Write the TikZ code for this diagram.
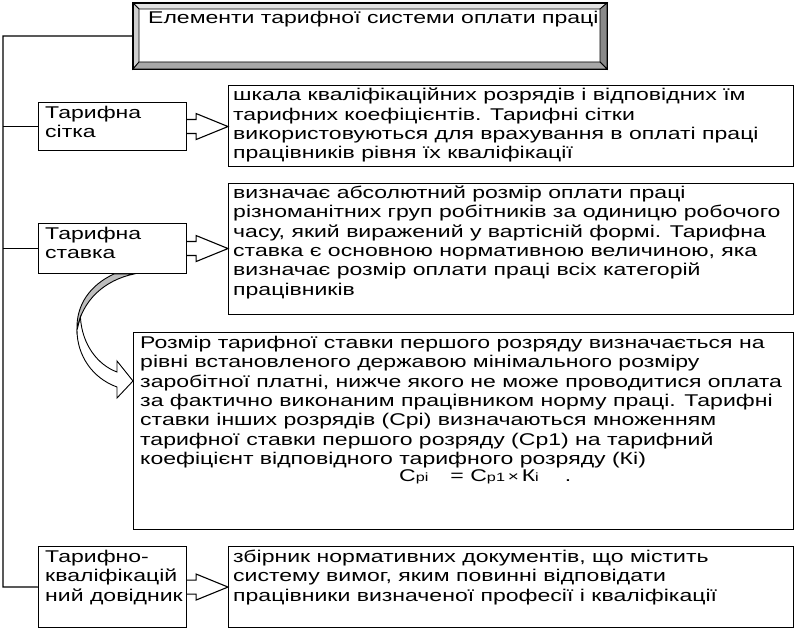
\documentclass[tikz,border=0pt]{standalone}
\usepackage{fontspec}
\setmainfont{Liberation Sans}[FakeStretch=1.355]
\usetikzlibrary{calc}
\newcommand{\sm}[1]{{\fontsize{12}{12}\selectfont #1}}
\newcommand{\blockarr}[2]{%
  \draw[barrow] ($(#1.east)+(0,-7)$) -- ++(9,0) -- ++(0,-6) -- (#1.east -| #2.west)
    -- ($(#1.east)+(9,13)$) -- ++(0,-6) -- ($(#1.east)+(0,7)$);}
\definecolor{bevlight}{HTML}{E4E4E4}
\definecolor{bevleft}{HTML}{CFCFCF}
\definecolor{bevdark}{HTML}{8A8A8A}
\definecolor{bevbottom}{HTML}{A8A8A8}
\definecolor{curvegray}{HTML}{BDBDBD}
\tikzset{
  box/.style={draw, line width=1.1pt, fill=white, rectangle, inner sep=0pt, anchor=north west},
  txt/.style={align=left, inner sep=0pt, anchor=north west, font=\fontsize{17}{19.4}\selectfont},
  conn/.style={line width=1.1pt},
  barrow/.style={draw, line width=1.1pt, fill=white, line join=miter},
  bevel/.style={draw, line width=0.8pt},
}
\begin{document}
\begin{tikzpicture}[x=1pt,y=-1pt]
\useasboundingbox (0,0) rectangle (796,628);

% title with bevel
\node[box, minimum width=473pt, minimum height=65pt] (title) at (133,3) {};
\coordinate (tin1) at (139,9);
\coordinate (tin2) at (600,62);
\filldraw[bevel, fill=bevlight] (title.north west) -- (title.north east) -- (tin2 |- tin1) -- (tin1) -- cycle;
\filldraw[bevel, fill=bevleft] (title.north west) -- (tin1) -- (tin1 |- tin2) -- (title.south west) -- cycle;
\filldraw[bevel, fill=bevdark] (title.north east) -- (tin2 |- tin1) -- (tin2) -- (title.south east) -- cycle;
\filldraw[bevel, fill=bevbottom] (title.south west) -- (tin1 |- tin2) -- (tin2) -- (title.south east) -- cycle;
\draw[line width=1.1pt] (title.north west) rectangle (title.south east);
\node[txt, anchor=base west] (titletext) at (148,24) {Елементи тарифної системи оплати праці};

% left boxes
\node[box, minimum width=148pt, minimum height=48pt] (sitka) at (38,102) {};
\node[box, minimum width=148pt, minimum height=50pt] (stavka) at (38,223) {};
\node[box, minimum width=148pt, minimum height=81pt] (dov) at (38,546) {};

% description boxes
\node[box, minimum width=565pt, minimum height=81pt] (desc1) at (228,85) {};
\node[box, minimum width=565pt, minimum height=131pt] (desc2) at (228,183) {};
\node[box, minimum width=660pt, minimum height=197pt] (desc3) at (133,332) {};
\node[box, minimum width=565pt, minimum height=81pt] (desc4) at (228,546) {};

% texts
\node[txt] (sitkat) at ($(sitka.north west)+(7,2.5)$) {\strut Тарифна\\сітка};
\node[txt] (stavkat) at ($(stavka.north west)+(7,2.5)$) {\strut Тарифна\\ставка};
\node[txt] (dovt) at ($(dov.north west)+(7,2.5)$) {\strut Тарифно-\\кваліфікацій\\ний довідник};

\node[txt] (desc1t) at ($(desc1.north west)+(5,2)$) {\strut шкала кваліфікаційних розрядів і відповідних їм\\
тарифних коефіцієнтів. Тарифні сітки\\
використовуються для врахування в оплаті праці\\
працівників рівня їх кваліфікації};

\node[txt] (desc2t) at ($(desc2.north west)+(5,1.5)$) {\strut визначає абсолютний розмір оплати праці\\
різноманітних груп робітників за одиницю робочого\\
часу, який виражений у вартісній формі. Тарифна\\
ставка є основною нормативною величиною, яка\\
визначає розмір оплати праці всіх категорій\\
працівників};

\node[txt] (desc3t) at ($(desc3.north west)+(7,2.5)$) {\strut Розмір тарифної ставки першого розряду визначається на\\
рівні встановленого державою мінімального розміру\\
заробітної платні, нижче якого не може проводитися оплата\\
за фактично виконаним працівником норму праці. Тарифні\\
ставки інших розрядів (Срі) визначаються множенням\\
тарифної ставки першого розряду (Ср1) на тарифний\\
коефіцієнт відповідного тарифного розряду (Кі)};

\node[txt, anchor=base west] (formula) at (399,482) {С\sm{рі}\hspace{22pt}= С\sm{р1}\,{\fontsize{14}{14}\selectfont ×}\,К\sm{і}\hspace{26pt}.};

\node[txt] (desc4t) at ($(desc4.north west)+(5,2.5)$) {\strut збірник нормативних документів, що містить\\
систему вимог, яким повинні відповідати\\
працівники визначеної професії і кваліфікації};

% connectors
\coordinate (trunk) at (3,587);
\draw[conn] (title.west) -| (trunk) -- (dov.west);
\draw[conn] (sitka.west) -- (sitka.west -| trunk);
\draw[conn] (stavka.west) -- (stavka.west -| trunk);

% block arrows
\blockarr{sitka}{desc1}
\blockarr{stavka}{desc2}
\blockarr{dov}{desc4}

% curved arrow from stavka to desc3
\filldraw[line width=0.9pt, fill=curvegray] (114,274) .. controls (90,285) and (76,305) .. (77,330)
  .. controls (82,300) and (105,280) .. (134,274) -- cycle;
\filldraw[line width=0.9pt, fill=white, line join=miter] (80.4,317.1) .. controls (82,345) and (98,365) .. (117,372)
  -- (117,361) -- (desc3.west |- 0,381) -- (117,398) -- (117,387)
  .. controls (92,378) and (77,355) .. (77,330) -- cycle;
\end{tikzpicture}
\end{document}
